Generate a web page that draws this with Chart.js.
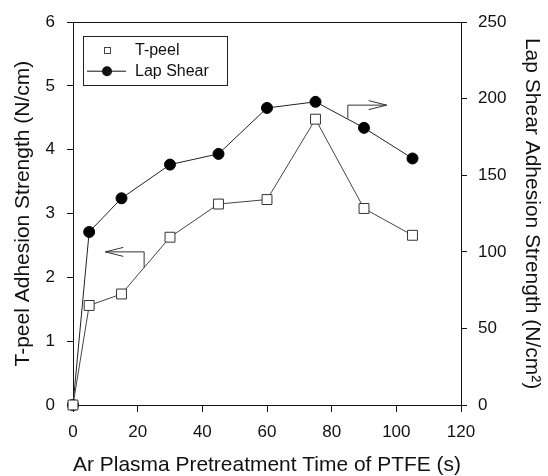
<!DOCTYPE html>
<html><head><meta charset="utf-8">
<script src="https://cdn.jsdelivr.net/npm/chart.js@4/dist/chart.umd.min.js"></script>
<style>html,body{margin:0;padding:0;background:#fff}</style>
</head><body>
<canvas id="c" width="548" height="476"></canvas>
<script>
// ---- data ----
const times = [0, 5, 15, 30, 45, 60, 75, 90, 105];
const tPeel = [0, 1.56, 1.74, 2.63, 3.15, 3.22, 4.48, 3.08, 2.66];
const lapShear = [0, 113, 135, 157, 164, 194, 198, 181, 161];
const seriesNames = ['T-peel', 'Lap Shear'];
const xTitle = 'Ar Plasma Pretreatment Time of PTFE (s)';
const yLeftTitle = 'T-peel Adhesion Strength (N/cm)';
const yRightTitle = 'Lap Shear Adhesion Strength (N/cm\u00B2)';
// annotation arrows, in (time, left-axis) units: bracket path then arrow tip
const leftArrow = [[22, 2.15], [22, 2.40], [10, 2.40]];
const rightArrow = [[85, 4.49], [85, 4.70], [97, 4.70]];

const FONT = "'Liberation Sans', Arial, Helvetica, sans-serif";
const ink = '#111';

const toXY = (xs, ys) => xs.map((x, i) => ({x, y: ys[i]}));

const decorPlugin = {
  id: 'decor',
  beforeDatasetsDraw(chart) {
    const {ctx, chartArea: a, scales: {x, y}} = chart;
    ctx.save();
    ctx.strokeStyle = ink;
    ctx.lineWidth = 1;
    // top frame line
    ctx.beginPath();
    ctx.moveTo(a.left, Math.round(a.top) + 0.5);
    ctx.lineTo(a.right, Math.round(a.top) + 0.5);
    ctx.stroke();
    // arrows
    const drawArrow = (pts) => {
      ctx.strokeStyle = '#333';
      ctx.beginPath();
      pts.forEach((p, i) => {
        const px = x.getPixelForValue(p[0]), py = y.getPixelForValue(p[1]);
        if (i === 0) ctx.moveTo(px, py); else ctx.lineTo(px, py);
      });
      ctx.stroke();
      const tip = pts[pts.length - 1], prev = pts[pts.length - 2];
      const tx = x.getPixelForValue(tip[0]), ty = y.getPixelForValue(tip[1]);
      const dir = Math.sign(x.getPixelForValue(prev[0]) - tx);
      ctx.beginPath();
      ctx.moveTo(tx + dir * 18, ty - 4.5);
      ctx.lineTo(tx, ty);
      ctx.lineTo(tx + dir * 18, ty + 4.5);
      ctx.stroke();
    };
    drawArrow(leftArrow);
    drawArrow(rightArrow);
    // legend box
    const bx = a.left + 10, by = a.top + 14, bw = 144, bh = 49;
    ctx.fillStyle = '#fff';
    ctx.fillRect(bx, by, bw, bh);
    ctx.strokeStyle = '#222';
    ctx.strokeRect(Math.round(bx) + 0.5, Math.round(by) + 0.5, bw, bh);
    ctx.font = '16px ' + FONT;
    ctx.fillStyle = ink;
    ctx.textBaseline = 'middle';
    ctx.textAlign = 'left';
    const mx = bx + 24, tx = bx + 52;
    const r1 = by + 14, r2 = by + 35;
    // T-peel entry: small open square
    ctx.strokeStyle = '#444';
    ctx.strokeRect(Math.round(mx - 3) + 0.5, Math.round(r1 - 3) + 0.5, 6, 6);
    ctx.fillText(seriesNames[0], tx, r1);
    // Lap Shear entry: line + filled circle
    ctx.strokeStyle = ink;
    ctx.beginPath(); ctx.moveTo(bx + 4, r2); ctx.lineTo(bx + 43, r2); ctx.stroke();
    ctx.beginPath(); ctx.arc(mx, r2, 5, 0, Math.PI * 2); ctx.fill();
    ctx.fillText(seriesNames[1], tx, r2);
    ctx.restore();
  }
};

const tickFont = {family: FONT, size: 17};
const titleFont = {family: FONT, size: 21, lineHeight: 1};

new Chart(document.getElementById('c'), {
  type: 'line',
  data: {
    datasets: [
      {
        label: seriesNames[0],
        data: toXY(times, tPeel),
        yAxisID: 'y',
        clip: false,
        borderColor: '#444',
        borderWidth: 1,
        pointStyle: 'rect',
        pointRadius: 7,
        pointBackgroundColor: '#fff',
        pointBorderColor: '#333',
        pointBorderWidth: 1,
        tension: 0
      },
      {
        label: seriesNames[1],
        data: toXY(times, lapShear),
        yAxisID: 'y1',
        clip: false,
        borderColor: '#222',
        borderWidth: 1,
        pointStyle: 'circle',
        pointRadius: 5.5,
        pointBackgroundColor: '#000',
        pointBorderColor: '#000',
        pointBorderWidth: 1,
        tension: 0
      }
    ]
  },
  options: {
    responsive: false,
    animation: false,
    events: [],
    layout: {padding: {top: 22, left: 0, right: 0, bottom: 0}},
    plugins: {legend: {display: false}, tooltip: {enabled: false}},
    scales: {
      x: {
        type: 'linear', position: 'bottom', min: 0, max: 120,
        afterFit(s) { s.height = 71; },
        ticks: {stepSize: 20, color: ink, font: tickFont, padding: 10, maxRotation: 0},
        grid: {drawOnChartArea: false, drawTicks: true, tickLength: 7, color: ink},
        border: {display: true, color: ink, width: 1},
        title: {display: true, text: xTitle, color: ink, font: titleFont, padding: {top: 0, bottom: 0}}
      },
      y: {
        type: 'linear', position: 'left', min: 0, max: 6,
        afterFit(s) { s.width = 73; },
        ticks: {stepSize: 1, color: ink, font: tickFont, padding: 12},
        grid: {drawOnChartArea: false, drawTicks: true, tickLength: 6, color: ink},
        border: {display: true, color: ink, width: 1},
        title: {display: true, text: yLeftTitle, color: ink, font: titleFont, padding: {top: 12.5, bottom: 0}}
      },
      y1: {
        type: 'linear', position: 'right', min: 0, max: 250,
        afterFit(s) { s.width = 87; },
        ticks: {stepSize: 50, color: ink, font: tickFont, padding: 11},
        grid: {drawOnChartArea: false, drawTicks: true, tickLength: 6, color: ink},
        border: {display: true, color: ink, width: 1},
        title: {display: true, text: yRightTitle, color: ink, font: titleFont, padding: {top: 5.5, bottom: 0}}
      }
    }
  },
  plugins: [decorPlugin]
});
</script>
</body></html>
